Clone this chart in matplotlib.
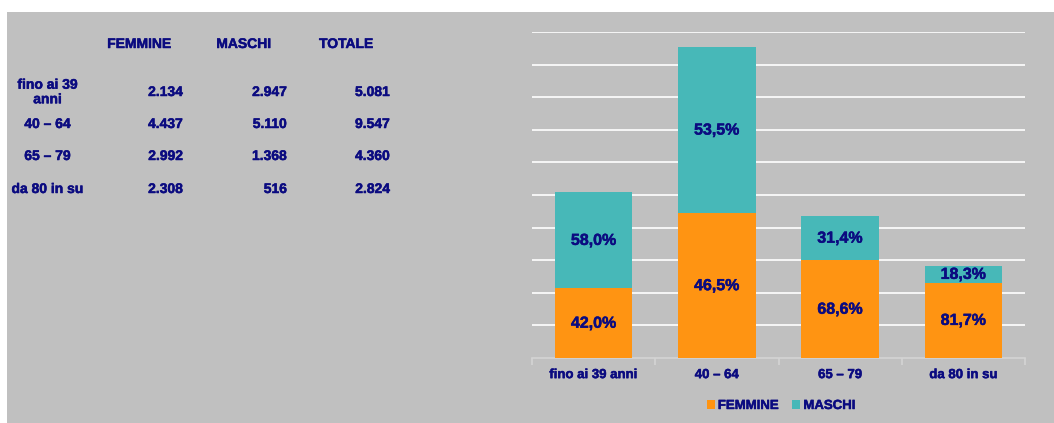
import matplotlib
matplotlib.use("Agg")
from matplotlib import pyplot as plt
from matplotlib.patches import Rectangle
import matplotlib.patheffects as pe
import numpy as np

# data
categories = ["fino ai 39 anni", "40 – 64", "65 – 79", "da 80 in su"]
row_labels = ["fino ai 39\nanni", "40 – 64", "65 – 79", "da 80 in su"]
femmine = [2134, 4437, 2992, 2308]
maschi = [2947, 5110, 1368, 516]
totale = [5081, 9547, 4360, 2824]
headers = ["FEMMINE", "MASCHI", "TOTALE"]

navy = "#0b0b80"
orange = "#FF9412"
teal = "#47B8B8"
bg = "#C0C0C0"

plt.rcParams["font.family"] = ["Liberation Sans", "DejaVu Sans"]
plt.rcParams["font.weight"] = "bold"

W, H = 1054, 423
fig = plt.figure(figsize=(W / 100, H / 100), dpi=100, facecolor="white")
fig.patches.append(Rectangle((7 / W, 0), 1 - 7 / W, (H - 12) / H,
                             transform=fig.transFigure, facecolor=bg,
                             edgecolor="none", zorder=-10))

def fx(px):
    return px / W

def fy(py):
    return (H - py) / H

def fmt(v):
    return f"{v:,}".replace(",", ".")

# table on the left
head_x = [139, 243.5, 346]
for h, x in zip(headers, head_x):
    fig.text(fx(x), fy(44), h, ha="center", va="center", fontsize=10,
             color=navy, fontweight="bold")

row_y = [92, 124, 156, 189]
col_right = [183, 287, 390]
for i, y in enumerate(row_y):
    fig.text(fx(47.5), fy(y), row_labels[i], ha="center", va="center",
             fontsize=10, color=navy, fontweight="bold", linespacing=1.05)
    for vals, x in zip([femmine, maschi, totale], col_right):
        fig.text(fx(x), fy(y), fmt(vals[i]), ha="right", va="center",
                 fontsize=10, color=navy, fontweight="bold")

# bar chart
ax = fig.add_axes([fx(532), fy(358), fx(1025) - fx(532), fy(32) - fy(358)])
ax.set_facecolor("none")
x = np.arange(len(categories))
f = np.array(femmine)
m = np.array(maschi)
ax.bar(x, f, width=0.63, color=orange, label="FEMMINE", zorder=3)
ax.bar(x, m, width=0.63, bottom=f, color=teal, label="MASCHI", zorder=3)

for i in range(len(x)):
    tot = f[i] + m[i]
    pf = f"{f[i] / tot * 100:.1f}%".replace(".", ",")
    pm = f"{m[i] / tot * 100:.1f}%".replace(".", ",")
    ax.text(x[i], f[i] / 2, pf, ha="center", va="center", fontsize=11.5,
            color=navy, fontweight="bold", zorder=4)
    ax.text(x[i], f[i] + m[i] / 2, pm, ha="center", va="center",
            fontsize=11.5, color=navy, fontweight="bold", zorder=4)

ax.set_xlim(-0.5, len(categories) - 0.5)
ax.set_ylim(0, 10000)
ax.set_yticks(np.arange(1000, 10001, 1000))
ax.yaxis.grid(True, color="white", linewidth=1.2, zorder=0)
ax.tick_params(axis="y", length=0, labelleft=False)
for s in ["top", "right", "left"]:
    ax.spines[s].set_visible(False)
ax.spines["bottom"].set_color("#d4d4d4")
ax.spines["bottom"].set_linewidth(1.2)
ax.set_xticks(x)
ax.set_xticklabels(categories, fontsize=9.5, color=navy, fontweight="bold")
ax.tick_params(axis="x", which="major", length=0, pad=8)
ax.set_xticks(np.arange(-0.5, len(categories), 1), minor=True)
ax.tick_params(axis="x", which="minor", length=5, color="#d4d4d4", width=1.2)

leg = fig.legend(loc="center", bbox_to_anchor=(fx(781), fy(406)), ncol=2,
                 frameon=False, fontsize=9.5, handlelength=0.6,
                 handleheight=0.6, handletextpad=0.25, columnspacing=1.0)
for t in leg.get_texts():
    t.set_color(navy)
    t.set_fontweight("bold")

# the source text looks a bit heavier, thicken slightly
for t in fig.findobj(matplotlib.text.Text):
    if t.get_text():
        t.set_path_effects([pe.withStroke(linewidth=0.35, foreground=navy)])

fig.savefig("out.png", dpi=100, facecolor="white")
